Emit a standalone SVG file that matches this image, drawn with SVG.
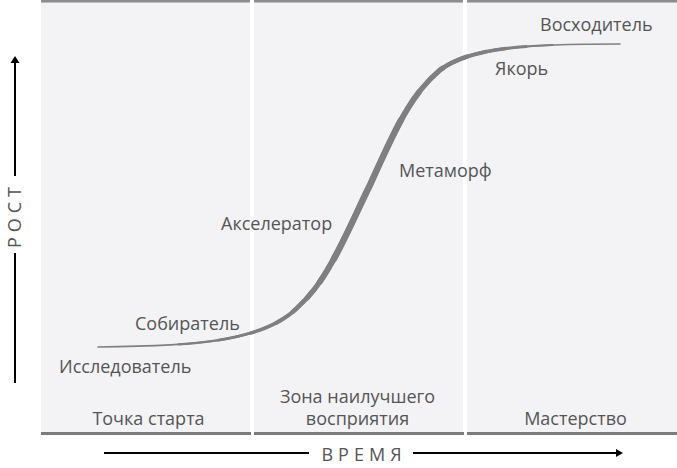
<svg xmlns="http://www.w3.org/2000/svg" width="677" height="468" viewBox="0 0 677 468">
<defs>
<style>
.panel{fill:#f3f3f5}
.top{fill:#8c8c8e}
.bot{fill:#7c7c7e}
.t{font-family:"Open Sans","Noto Sans","DejaVu Sans",sans-serif;font-size:18px;fill:#555555}
.ax{font-family:"Open Sans","Noto Sans","DejaVu Sans",sans-serif;font-size:18px;fill:#555555;letter-spacing:5px}
.axis{stroke:#000;stroke-width:2;fill:none}
.c{fill:none;stroke:#7f7f82;stroke-linecap:round}
</style>
<path id="curve" d="M98,347 C190,346 265,343 300,305 C330,278 350,225 370,185 C395,130 410,95 440,70 C470,48 520,44 620,44"/>
</defs>
<rect width="677" height="468" fill="#ffffff"/>
<g id="panel-start">
<rect class="panel" x="41" y="0" width="209" height="432"/>
<rect class="top" x="41" y="0" width="209" height="2.5"/>
<rect class="bot" x="41" y="432" width="210" height="3"/>
<text class="t" x="148.5" y="425" text-anchor="middle">Точка старта</text>
</g>
<g id="panel-zone">
<rect class="panel" x="254" y="0" width="209" height="432"/>
<rect class="top" x="254" y="0" width="209" height="2.5"/>
<rect class="bot" x="254" y="432" width="210" height="3"/>
<text class="t" x="357.5" y="403" text-anchor="middle">Зона наилучшего</text>
<text class="t" x="357.5" y="425" text-anchor="middle">восприятия</text>
</g>
<g id="panel-mastery">
<rect class="panel" x="467" y="0" width="210" height="432"/>
<rect class="top" x="467" y="0" width="210" height="2.5"/>
<rect class="bot" x="467" y="432" width="210" height="3"/>
<text class="t" x="575.5" y="425" text-anchor="middle">Мастерство</text>
</g>
<g id="connectors">
<g id="growth-curve">
<path class="c" stroke-width="1.6" d="M98,347 C190,346 265,343 300,305 C330,278 350,225 370,185 C395,130 410,95 440,70 C470,48 520,44 620,44"/>
<path class="c" stroke-width="2.2" pathLength="100" stroke-dasharray="78 200" stroke-dashoffset="-12" d="M98,347 C190,346 265,343 300,305 C330,278 350,225 370,185 C395,130 410,95 440,70 C470,48 520,44 620,44"/>
<path class="c" stroke-width="2.8" pathLength="100" stroke-dasharray="68 200" stroke-dashoffset="-18" d="M98,347 C190,346 265,343 300,305 C330,278 350,225 370,185 C395,130 410,95 440,70 C470,48 520,44 620,44"/>
<path class="c" stroke-width="3.4" pathLength="100" stroke-dasharray="60 200" stroke-dashoffset="-23" d="M98,347 C190,346 265,343 300,305 C330,278 350,225 370,185 C395,130 410,95 440,70 C470,48 520,44 620,44"/>
<path class="c" stroke-width="4" pathLength="100" stroke-dasharray="53 200" stroke-dashoffset="-27" d="M98,347 C190,346 265,343 300,305 C330,278 350,225 370,185 C395,130 410,95 440,70 C470,48 520,44 620,44"/>
<path class="c" stroke-width="4.6" pathLength="100" stroke-dasharray="47 200" stroke-dashoffset="-30" d="M98,347 C190,346 265,343 300,305 C330,278 350,225 370,185 C395,130 410,95 440,70 C470,48 520,44 620,44"/>
<path class="c" stroke-width="5.2" pathLength="100" stroke-dasharray="40 200" stroke-dashoffset="-33" d="M98,347 C190,346 265,343 300,305 C330,278 350,225 370,185 C395,130 410,95 440,70 C470,48 520,44 620,44"/>
<path class="c" stroke-width="5.8" pathLength="100" stroke-dasharray="32 200" stroke-dashoffset="-36" d="M98,347 C190,346 265,343 300,305 C330,278 350,225 370,185 C395,130 410,95 440,70 C470,48 520,44 620,44"/>
<path class="c" stroke-width="6.4" pathLength="100" stroke-dasharray="23 200" stroke-dashoffset="-40" d="M98,347 C190,346 265,343 300,305 C330,278 350,225 370,185 C395,130 410,95 440,70 C470,48 520,44 620,44"/>
</g>
<g id="y-axis">
<line class="axis" x1="15" y1="62" x2="15" y2="176"/>
<line class="axis" x1="15" y1="253" x2="15" y2="383"/>
<polygon points="15,56 10.5,63 19.5,63" fill="#000"/>
<text class="ax" transform="translate(21,215) rotate(-90)" text-anchor="middle">РОСТ</text>
</g>
<g id="x-axis">
<line class="axis" stroke-width="1.5" x1="104" y1="453" x2="309" y2="453"/>
<line class="axis" stroke-width="1.5" x1="413" y1="453" x2="617" y2="453"/>
<polygon points="623,453 616,449 616,457" fill="#000"/>
<text class="ax" x="364" y="461" text-anchor="middle">ВРЕМЯ</text>
</g>
</g>
<g id="labels">
<text id="n-explorer" class="t" x="59" y="373">Исследователь</text>
<text id="n-collector" class="t" x="135" y="330">Собиратель</text>
<text id="n-accelerator" class="t" x="221" y="230">Акселератор</text>
<text id="n-metamorph" class="t" x="399" y="177">Метаморф</text>
<text id="n-anchor" class="t" x="495" y="75">Якорь</text>
<text id="n-climber" class="t" x="540" y="31">Восходитель</text>
</g>
</svg>
